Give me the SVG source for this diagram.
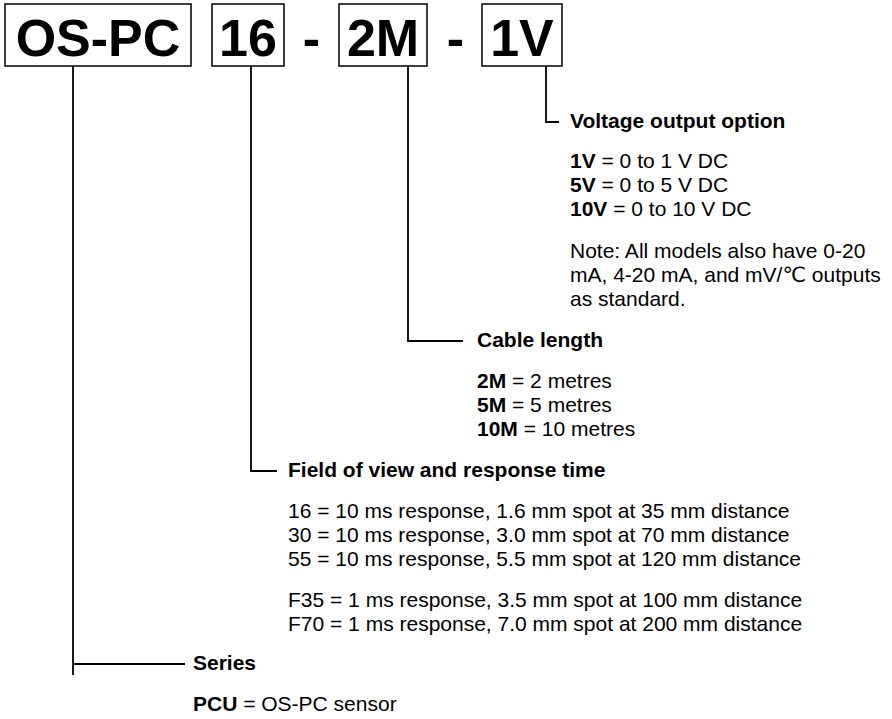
<svg xmlns="http://www.w3.org/2000/svg" width="892" height="719" viewBox="0 0 892 719">
<style>
.box{fill:#fff;stroke:#000;stroke-width:1.5}
.big{font-family:"Liberation Sans",Arial,sans-serif;font-weight:bold;font-size:52px;fill:#000;text-anchor:middle}
.ln{fill:none;stroke:#000;stroke-width:1.8}
.h{font-family:"Liberation Sans",Arial,sans-serif;font-weight:bold;font-size:21px;fill:#000}
.t{font-family:"Liberation Sans",Arial,"DejaVu Sans",sans-serif;font-size:21px;fill:#000}
.b{font-weight:bold}
</style>
<rect width="892" height="719" fill="#fff"/>
<g id="code">
<g id="box-series"><rect class="box" x="5" y="4" width="186" height="62"/><text class="big" x="98" y="56">OS-PC</text></g>
<g id="box-fov"><rect class="box" x="212" y="4" width="72" height="62"/><text class="big" x="248" y="56">16</text></g>
<text class="big" x="311.5" y="56">-</text>
<g id="box-cable"><rect class="box" x="339" y="4" width="88" height="62"/><text class="big" x="383" y="56">2M</text></g>
<text class="big" x="455.5" y="56">-</text>
<g id="box-volt"><rect class="box" x="482" y="4" width="80" height="62"/><text class="big" x="522" y="56">1V</text></g>
</g>
<g id="connectors">
<path class="ln" d="M546 66V122H559"/>
<path class="ln" d="M408 66V341H463"/>
<path class="ln" d="M251 66V471H277"/>
<path class="ln" d="M73 66V675M73 664H185"/>
</g>
<g id="voltage">
<text class="h" x="570" y="128">Voltage output option</text>
<text class="t" x="570" y="168"><tspan class="b">1V</tspan> = 0 to 1 V DC</text>
<text class="t" x="570" y="192"><tspan class="b">5V</tspan> = 0 to 5 V DC</text>
<text class="t" x="570" y="216"><tspan class="b">10V</tspan> = 0 to 10 V DC</text>
<text class="t" x="570" y="257.5">Note: All models also have 0-20</text>
<text class="t" x="570" y="281.5">mA, 4-20 mA, and mV/℃ outputs</text>
<text class="t" x="570" y="305.5">as standard.</text>
</g>
<g id="cable">
<text class="h" x="477" y="347">Cable length</text>
<text class="t" x="477" y="387.5"><tspan class="b">2M</tspan> = 2 metres</text>
<text class="t" x="477" y="411.5"><tspan class="b">5M</tspan> = 5 metres</text>
<text class="t" x="477" y="435.5"><tspan class="b">10M</tspan> = 10 metres</text>
</g>
<g id="fov">
<text class="h" x="288" y="477">Field of view and response time</text>
<text class="t" x="288" y="518">16 = 10 ms response, 1.6 mm spot at 35 mm distance</text>
<text class="t" x="288" y="542">30 = 10 ms response, 3.0 mm spot at 70 mm distance</text>
<text class="t" x="288" y="566">55 = 10 ms response, 5.5 mm spot at 120 mm distance</text>
<text class="t" x="288" y="607">F35 = 1 ms response, 3.5 mm spot at 100 mm distance</text>
<text class="t" x="288" y="631">F70 = 1 ms response, 7.0 mm spot at 200 mm distance</text>
</g>
<g id="series">
<text class="h" x="193" y="670">Series</text>
<text class="t" x="193" y="711"><tspan class="b">PCU</tspan> = OS-PC sensor</text>
</g>
</svg>
